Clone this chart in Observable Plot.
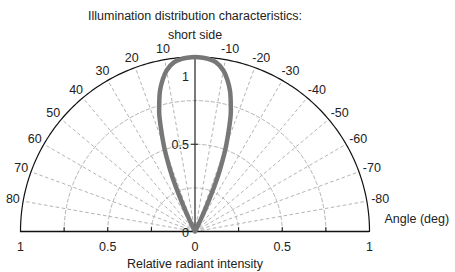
<!DOCTYPE html>
<html>
<head>
<meta charset="utf-8">
<script src="https://cdn.jsdelivr.net/npm/d3@7"></script>
<script src="https://cdn.jsdelivr.net/npm/@observablehq/plot@0.6"></script>
<style>
  html, body { margin: 0; padding: 0; background: #fff; }
  svg { font-family: "Liberation Sans", Arial, sans-serif; }
</style>
</head>
<body>
<div id="chart"></div>
<script>
const title = "Illumination distribution characteristics:";
const subtitle = "short side";
const xTitle = "Relative radiant intensity";
const angleTitle = "Angle (deg)";
const angleLabels = [80, 70, 60, 50, 40, 30, 20, 10, -10, -20, -30, -40, -50, -60, -70, -80];
const spokeAngles = [80, 70, 60, 50, 40, 30, 20, 10, -10, -20, -30, -40, -50, -60, -70, -80];
const gridLevels = [0.25, 0.5, 0.75];
const intensityTicks = [-1, -0.75, -0.5, -0.25, 0.25, 0.5, 0.75, 1];
const intensityLabels = [-1, -0.5, 0, 0.5, 1];
const radialLabels = [0, 0.5];
const topLabel = [1];
// angle in degrees (positive = left side), relative intensity
const curveAngles    = [-27, -26, -25, -24, -23, -22, -21, -20, -18, -17, -16, -14, -12, -10, -7, -4, -2, 0, 2, 4, 7, 10, 12, 14, 16, 17, 18, 20, 21, 22, 23, 24, 25, 26, 27];
const curveIntensity = [0, 0.04, 0.11, 0.20, 0.30, 0.38, 0.45, 0.52, 0.64, 0.70, 0.745, 0.83, 0.89, 0.937, 0.978, 0.993, 0.998, 1, 0.998, 0.993, 0.978, 0.937, 0.89, 0.83, 0.745, 0.70, 0.64, 0.52, 0.45, 0.38, 0.30, 0.20, 0.11, 0.04, 0];

const rad = d => d * Math.PI / 180;
const px = (a, r) => -r * Math.sin(rad(a));
const py = (a, r) => r * Math.cos(rad(a));

const curve = curveAngles.map((a, i) => ({a, r: curveIntensity[i]}));
const arcSteps = d3.range(-90, 90.01, 1);
const gridCircles = gridLevels.flatMap(r => arcSteps.map(a => ({a, r, level: r})));
const outerArc = arcSteps.map(a => ({a, r: 1}));
const spokes = spokeAngles.map(a => ({a}));

const chart = Plot.plot({
  width: 455,
  height: 272,
  marginLeft: 20,
  marginRight: 86,
  marginTop: 56.5,
  marginBottom: 41,
  x: {domain: [-1, 1], axis: null},
  y: {domain: [0, 1], axis: null},
  style: {fontFamily: "Liberation Sans, Arial, sans-serif", fontSize: "12px", background: "#fff", color: "#222"},
  marks: [
    // dashed concentric circles
    Plot.line(gridCircles, {x: d => px(d.a, d.r), y: d => py(d.a, d.r), z: "level", stroke: "#aaa", strokeWidth: 0.9, strokeDasharray: "3.5,2.5"}),
    // dashed spokes
    Plot.link(spokes, {x1: 0, y1: 0, x2: d => px(d.a, 1), y2: d => py(d.a, 1), stroke: "#aaa", strokeWidth: 0.9, strokeDasharray: "3.5,2.5"}),
    // outer arc
    Plot.line(outerArc, {x: d => px(d.a, d.r), y: d => py(d.a, d.r), stroke: "#111", strokeWidth: 1.2}),
    // baseline
    Plot.ruleY([0], {x1: -1, x2: 1, stroke: "#111", strokeWidth: 1.4}),
    // baseline ticks
    Plot.ruleX(intensityTicks, {y1: 0, y2: 0.022, stroke: "#111", strokeWidth: 1}),
    // vertical axis
    Plot.ruleX([0], {y1: 0, y2: 1, stroke: "#222", strokeWidth: 1.2}),
    Plot.ruleY([0.5, 1], {x1: -0.02, x2: 0.02, stroke: "#222", strokeWidth: 1}),
    // intensity curve
    Plot.line(curve, {x: d => px(d.a, d.r), y: d => py(d.a, d.r), stroke: "#777", strokeWidth: 4.5, curve: "catmull-rom", strokeLinejoin: "round", strokeLinecap: "round"}),
    // angle labels
    Plot.text(angleLabels.filter(a => a > 0), {x: a => px(a, 1.06), y: a => py(a, 1.06), text: a => String(a), fill: "#222", fontSize: 12.5}),
    Plot.text(angleLabels.filter(a => a < 0), {x: a => px(a, 1.06), y: a => py(a, 1.06), text: a => String(a), dx: 3, fill: "#222", fontSize: 12.5}),
    // radial value labels on the vertical axis
    Plot.text(radialLabels, {x: 0, y: d => d, text: d => String(d), textAnchor: "end", dx: -6, dy: 1, fill: "#222", fontSize: 12.5}),
    Plot.text(topLabel, {x: 0, y: d => d, text: d => String(d), textAnchor: "end", dx: -6, dy: 20, fill: "#222", fontSize: 12.5}),
    // bottom labels
    Plot.text(intensityLabels, {x: d => d, y: 0, text: d => String(Math.abs(d)), dy: 15, fill: "#222", fontSize: 12.5}),
    Plot.text([xTitle], {x: 0, y: 0, text: d => d, dy: 32, fill: "#222", fontSize: 12.5}),
    Plot.text([angleTitle], {x: 1, y: 0, text: d => d, dx: 15, dy: -13, textAnchor: "start", fill: "#222", fontSize: 12.5}),
    // titles
    Plot.text([title], {frameAnchor: "top", lineAnchor: "middle", text: d => d, dy: -41.5, fill: "#222", fontSize: 12.5}),
    Plot.text([subtitle], {frameAnchor: "top", lineAnchor: "middle", text: d => d, dy: -22.5, fill: "#222", fontSize: 12.5})
  ]
});
document.getElementById("chart").appendChild(chart);
</script>
</body>
</html>
